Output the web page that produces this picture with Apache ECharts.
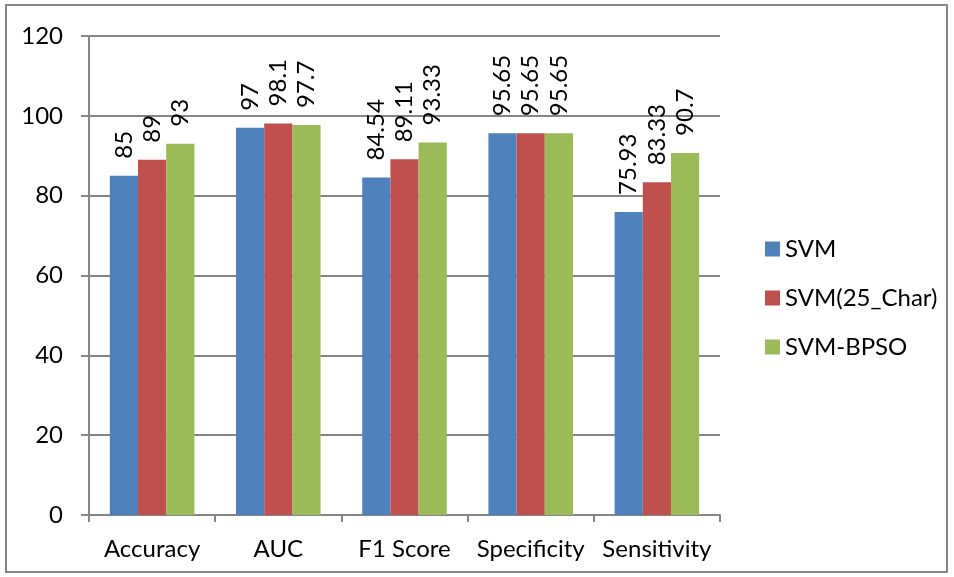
<!DOCTYPE html>
<html>
<head>
<meta charset="utf-8">
<script src="https://cdn.jsdelivr.net/npm/echarts@6/dist/echarts.min.js"></script>
<style>
  html, body { margin: 0; padding: 0; background: #fff; }
  #chart { width: 954px; height: 577px; }
</style>
</head>
<body>
<div id="chart"></div>
<script>
// Metric categories on the x axis
const categories = ['Accuracy', 'AUC', 'F1 Score', 'Specificity', 'Sensitivity'];
// Scores per classifier
const svm = [85, 97, 84.54, 95.65, 75.93];
const svmChar = [89, 98.1, 89.11, 95.65, 83.33];
const svmBpso = [93, 97.7, 93.33, 95.65, 90.7];
const seriesNames = ['SVM', 'SVM(25_Char)', 'SVM-BPSO'];
const colors = ['#4F81BD', '#C0504D', '#9BBB59'];

const FONT = 'Lato, "Open Sans", sans-serif';

function barSeries(name, data, color) {
  return {
    name: name,
    type: 'bar',
    data: data,
    barGap: '0%',
    barCategoryGap: '33%',
    itemStyle: { color: color },
    label: {
      show: true,
      position: 'top',
      rotate: 90,
      align: 'left',
      verticalAlign: 'middle',
      distance: 17,
      color: '#000',
      fontFamily: FONT,
      fontSize: 24
    }
  };
}

const chart = echarts.init(document.getElementById('chart'));
chart.setOption({
  animation: false,
  color: colors,
  grid: { left: 89, right: 234, top: 36, bottom: 62, containLabel: false },
  legend: {
    orient: 'vertical',
    left: 760,
    top: 232,
    itemWidth: 15,
    itemHeight: 15,
    itemGap: 25,
    icon: 'rect',
    textStyle: { fontFamily: FONT, fontSize: 24, color: '#000' },
    data: seriesNames
  },
  xAxis: {
    type: 'category',
    data: categories,
    axisLine: { lineStyle: { color: '#868686', width: 2 } },
    axisTick: { show: true, interval: 0, length: 7, alignWithLabel: false, lineStyle: { color: '#868686', width: 2 } },
    axisLabel: { interval: 0, hideOverlap: false, color: '#000', fontFamily: FONT, fontSize: 24, margin: 22 }
  },
  yAxis: {
    type: 'value',
    min: 0,
    max: 120,
    interval: 20,
    axisLine: { show: true, lineStyle: { color: '#868686', width: 2 } },
    axisTick: { show: true, length: 8, inside: false, lineStyle: { color: '#868686', width: 2 } },
    splitLine: { lineStyle: { color: '#868686', width: 2 } },
    axisLabel: { color: '#000', fontFamily: FONT, fontSize: 24, margin: 26 }
  },
  graphic: [{
    type: 'rect',
    shape: { x: 6, y: 5, width: 941, height: 567 },
    style: { fill: 'none', stroke: '#868686', lineWidth: 2 },
    silent: true
  }],
  series: [
    barSeries(seriesNames[0], svm, colors[0]),
    barSeries(seriesNames[1], svmChar, colors[1]),
    barSeries(seriesNames[2], svmBpso, colors[2])
  ]
});
</script>
</body>
</html>
